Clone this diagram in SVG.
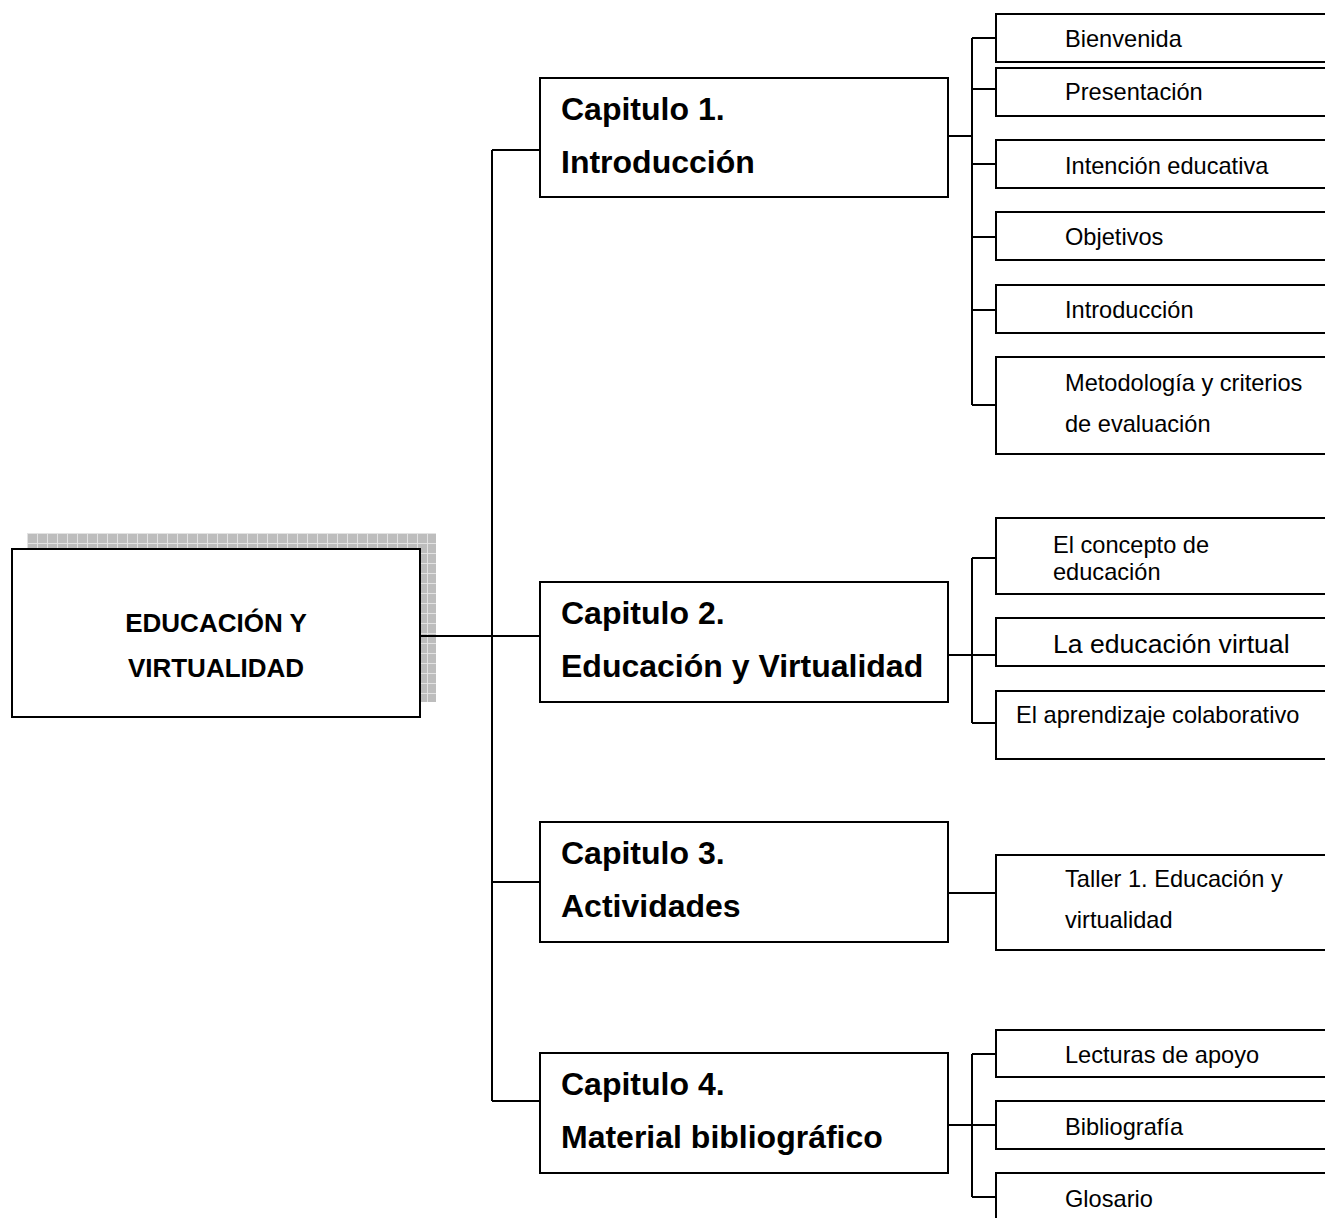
<svg xmlns="http://www.w3.org/2000/svg" width="1325" height="1218" viewBox="0 0 1325 1218">
  <style>
    .box { fill: #ffffff; stroke: #000000; stroke-width: 2; }
    .wire { fill: none; stroke: #000000; stroke-width: 2; }
    .root { font-family: "Liberation Sans", Arial, sans-serif; font-weight: bold; font-size: 26px; fill: #000; }
    .chap { font-family: "Liberation Sans", Arial, sans-serif; font-weight: bold; font-size: 32px; fill: #000; }
    .leaf { font-family: "Liberation Sans", Arial, sans-serif; font-size: 23.6px; fill: #000; }
  </style>
  <defs>
    <!-- grey grid fill used for the drop shadow of the root box -->
    <pattern id="grid" width="10" height="10" patternUnits="userSpaceOnUse" x="27" y="533">
      <rect width="10" height="10" fill="#bdbdbd"/>
      <path d="M0 0.5H10M0.5 0V10" stroke="#e2e2e2" stroke-width="1"/>
    </pattern>
  </defs>

  <rect width="1325" height="1218" fill="#ffffff"/>

  <!-- root -->
  <g id="root">
    <rect x="27" y="533" width="409" height="169" fill="url(#grid)"/>
    <rect class="box" x="12" y="549" width="408" height="168"/>
    <text class="root" x="216" y="632" text-anchor="middle">EDUCACIÓN Y</text>
    <text class="root" x="216" y="677" text-anchor="middle">VIRTUALIDAD</text>
  </g>

  <!-- connectors -->
  <g id="connectors" class="wire">
    <path d="M420 636H492"/>
    <path d="M492 150V1101"/>
    <path d="M492 150H540M492 636H540M492 882H540M492 1101H540"/>
    <!-- chapter 1 bracket -->
    <path d="M948 136H972M972 38V405"/>
    <path d="M972 38H996M972 89H996M972 164H996M972 237H996M972 310H996M972 405H996"/>
    <!-- chapter 2 bracket -->
    <path d="M948 655H972M972 558V723"/>
    <path d="M972 558H996M972 655H996M972 723H996"/>
    <!-- chapter 3 link -->
    <path d="M945 893H996"/>
    <!-- chapter 4 bracket -->
    <path d="M948 1125H972M972 1054V1197"/>
    <path d="M972 1054H996M972 1125H996M972 1197H996"/>
  </g>

  <!-- chapters -->
  <g id="cap1">
    <rect class="box" x="540" y="78" width="408" height="119"/>
    <text class="chap" x="561" y="120">Capitulo 1.</text>
    <text class="chap" x="561" y="173">Introducción</text>
  </g>
  <g id="cap2">
    <rect class="box" x="540" y="582" width="408" height="120"/>
    <text class="chap" x="561" y="624">Capitulo 2.</text>
    <text class="chap" x="561" y="677">Educación y Virtualidad</text>
  </g>
  <g id="cap3">
    <rect class="box" x="540" y="822" width="408" height="120"/>
    <text class="chap" x="561" y="864">Capitulo 3.</text>
    <text class="chap" x="561" y="917">Actividades</text>
  </g>
  <g id="cap4">
    <rect class="box" x="540" y="1053" width="408" height="120"/>
    <text class="chap" x="561" y="1095">Capitulo 4.</text>
    <text class="chap" x="561" y="1148">Material bibliográfico</text>
  </g>

  <!-- chapter 1 topics -->
  <g id="bienvenida">
    <rect class="box" x="996" y="14" width="340" height="48"/>
    <text class="leaf" x="1065" y="47">Bienvenida</text>
  </g>
  <g id="presentacion">
    <rect class="box" x="996" y="68" width="340" height="48"/>
    <text class="leaf" x="1065" y="100">Presentación</text>
  </g>
  <g id="intencion">
    <rect class="box" x="996" y="140" width="340" height="48"/>
    <text class="leaf" x="1065" y="174">Intención educativa</text>
  </g>
  <g id="objetivos">
    <rect class="box" x="996" y="212" width="340" height="48"/>
    <text class="leaf" x="1065" y="245">Objetivos</text>
  </g>
  <g id="introduccion">
    <rect class="box" x="996" y="285" width="340" height="48"/>
    <text class="leaf" x="1065" y="318">Introducción</text>
  </g>
  <g id="metodologia">
    <rect class="box" x="996" y="357" width="340" height="97"/>
    <text class="leaf" x="1065" y="391">Metodología y criterios</text>
    <text class="leaf" x="1065" y="432">de evaluación</text>
  </g>

  <!-- chapter 2 topics -->
  <g id="concepto">
    <rect class="box" x="996" y="518" width="340" height="76"/>
    <text class="leaf" x="1053" y="553">El concepto de</text>
    <text class="leaf" x="1053" y="580">educación</text>
  </g>
  <g id="educacion-virtual">
    <rect class="box" x="996" y="618" width="340" height="48"/>
    <text class="leaf" x="1053" y="653" style="font-size:26.6px">La educación virtual</text>
  </g>
  <g id="aprendizaje">
    <rect class="box" x="996" y="691" width="340" height="68"/>
    <text class="leaf" x="1016" y="723">El aprendizaje colaborativo</text>
  </g>

  <!-- chapter 3 topic -->
  <g id="taller">
    <rect class="box" x="996" y="855" width="340" height="95"/>
    <text class="leaf" x="1065" y="887">Taller 1. Educación y</text>
    <text class="leaf" x="1065" y="928">virtualidad</text>
  </g>

  <!-- chapter 4 topics -->
  <g id="lecturas">
    <rect class="box" x="996" y="1030" width="340" height="47"/>
    <text class="leaf" x="1065" y="1063">Lecturas de apoyo</text>
  </g>
  <g id="bibliografia">
    <rect class="box" x="996" y="1101" width="340" height="48"/>
    <text class="leaf" x="1065" y="1135">Bibliografía</text>
  </g>
  <g id="glosario">
    <rect class="box" x="996" y="1173" width="340" height="60"/>
    <text class="leaf" x="1065" y="1207">Glosario</text>
  </g>
</svg>
